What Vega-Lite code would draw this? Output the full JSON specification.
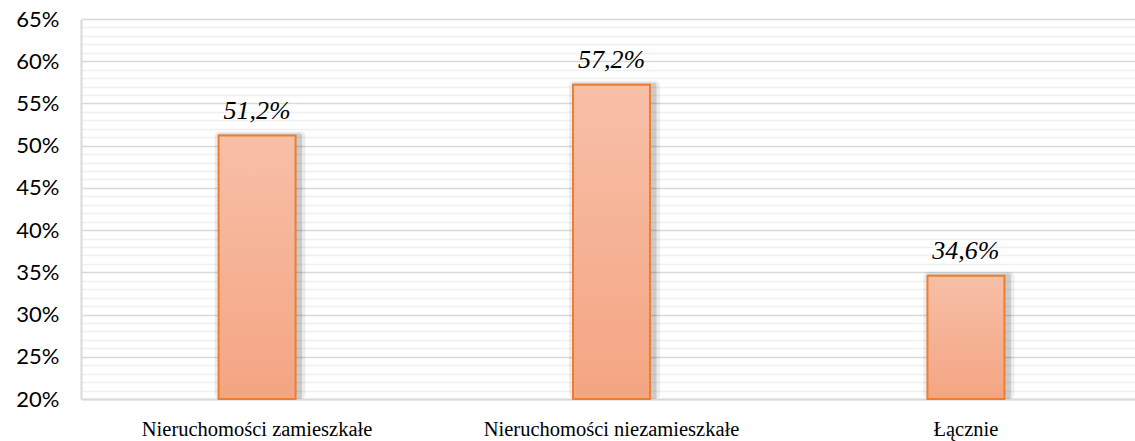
{
  "$schema": "https://vega.github.io/schema/vega-lite/v6.json",
  "autosize": {"type": "none"},
  "padding": {"left": 81, "top": 19, "right": 0, "bottom": 42},
  "width": 1054,
  "height": 380,
  "background": "white",
  "config": {
    "view": {"stroke": null},
    "locale": {"number": {"decimal": ",", "thousands": " ", "grouping": [3], "currency": ["", " zł"]}}
  },
  "data": {"values": [
    {"kategoria": "Nieruchomości zamieszkałe", "udzial": 0.512},
    {"kategoria": "Nieruchomości niezamieszkałe", "udzial": 0.572},
    {"kategoria": "Łącznie", "udzial": 0.346}
  ]},
  "encoding": {
    "x": {
      "field": "kategoria", "type": "nominal", "sort": null,
      "scale": {"paddingInner": 0.7825, "paddingOuter": 0.388, "range": [0, 1061]},
      "axis": {
        "title": null, "labelAngle": 0, "ticks": false, "labelLimit": 0,
        "labelFont": "Liberation Serif", "labelFontSize": 20.5, "labelColor": "#000000",
        "labelPadding": 20, "domainColor": "#d9d9d9", "domainWidth": 2
      }
    },
    "y": {"field": "udzial", "type": "quantitative",
      "scale": {"domain": [0.2, 0.65], "zero": false, "nice": false},
      "axis": {
        "title": null, "format": ".0%",
        "values": [0.2,0.21,0.22,0.23,0.24,0.25,0.26,0.27,0.28,0.29,0.3,0.31,0.32,0.33,0.34,0.35,0.36,0.37,0.38,0.39,0.4,0.41,0.42,0.43,0.44,0.45,0.46,0.47,0.48,0.49,0.5,0.51,0.52,0.53,0.54,0.55,0.56,0.57,0.58,0.59,0.6,0.61,0.62,0.63,0.64,0.65],
        "labelExpr": "round(datum.value*100) % 5 === 0 ? datum.label : ''",
        "labelOverlap": false,
        "labelFont": "Lato", "labelFontSize": 22, "labelColor": "#000000",
        "labelPadding": 22, "ticks": false,
        "grid": true, "gridWidth": 1.5,
        "gridColor": {"condition": {"test": "round(datum.value*100) % 5 === 0", "value": "#d9d9d9"}, "value": "#f0f0f0"},
        "domainColor": "#d9d9d9", "domainWidth": 2
      }
    }
  },
  "layer": [
    {
      "mark": {"type": "bar", "fill": "#000000", "opacity": 0.07, "xOffset": 3, "yOffset": -4, "size": 91, "cornerRadius": 5},
      "encoding": {"y2": {"datum": 0.2}}
    },
    {
      "mark": {"type": "bar", "fill": "#000000", "opacity": 0.14, "xOffset": 3, "yOffset": -2, "size": 84, "cornerRadius": 2},
      "encoding": {"y2": {"datum": 0.2}}
    },
    {
      "mark": {
        "type": "bar", "size": 77,
        "fill": {"gradient": "linear", "x1": 0, "y1": 0, "x2": 0, "y2": 1,
          "stops": [{"offset": 0, "color": "#f7bfa7"}, {"offset": 1, "color": "#f4a582"}]},
        "stroke": "#ed7d31", "strokeWidth": 2
      },
      "encoding": {"y2": {"datum": 0.2}}
    },
    {
      "mark": {"type": "text", "font": "Liberation Serif", "fontStyle": "italic", "fontSize": 26, "color": "#000000", "baseline": "alphabetic", "dy": -17},
      "encoding": {
        "text": {"field": "udzial", "type": "quantitative", "format": ".1%"}
      }
    }
  ]
}
